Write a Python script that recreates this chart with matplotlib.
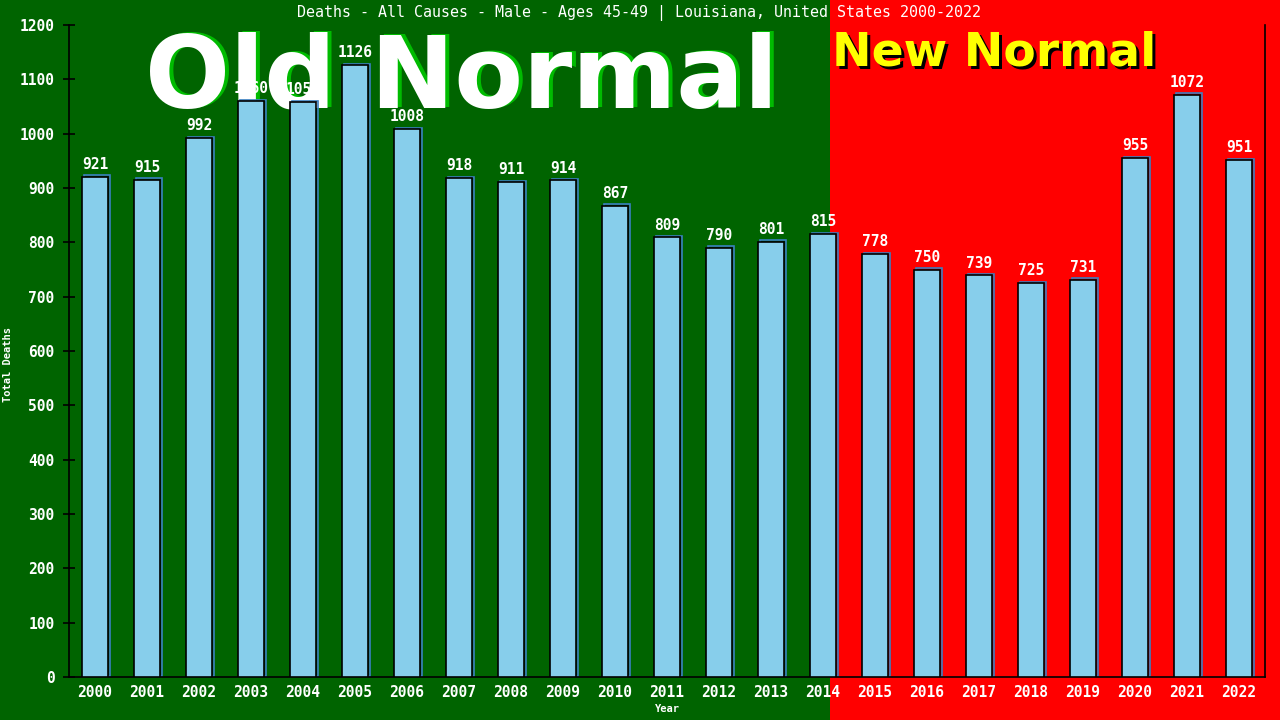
"""Deaths by year, Louisiana males 45-49, old vs new normal."""

import matplotlib.pyplot as plt
from matplotlib.patches import Rectangle
from matplotlib.transforms import ScaledTranslation

years = [str(y) for y in range(2000, 2023)]
deaths = [921, 915, 992, 1060, 1058, 1126, 1008, 918, 911, 914, 867, 809,
          790, 801, 815, 778, 750, 739, 725, 731, 955, 1072, 951]
y_ticks = list(range(0, 1201, 100))

GREEN = "#006400"
RED = "#ff0000"
BAR = "#87ceeb"
MONO = "DejaVu Sans Mono"

fig = plt.figure(figsize=(12.8, 7.2), dpi=100, facecolor=GREEN)
ax = fig.add_axes([69 / 1280, 1 - 677 / 720, (1265 - 69) / 1280, (677 - 25) / 720])
ax.set_facecolor("none")

# red "new normal" half of the background
fig.patches.append(Rectangle((830 / 1280, 0), 450 / 1280, 1, transform=fig.transFigure,
                             facecolor=RED, edgecolor="none", zorder=-3))

# big headline texts, drawn behind the bars
shadow = ScaledTranslation(4 / 100, 1 / 100, fig.dpi_scale_trans)
fig.text(462 / 1280, 1 - 80 / 720, "Old Normal", ha="center", va="center", fontsize=72,
         fontweight="bold", color="#00bb00", transform=fig.transFigure + shadow, zorder=-2)
fig.text(462 / 1280, 1 - 80 / 720, "Old Normal", ha="center", va="center", fontsize=72,
         fontweight="bold", color="white", zorder=-1)
shadow2 = ScaledTranslation(3 / 100, -3 / 100, fig.dpi_scale_trans)
fig.text(994 / 1280, 1 - 53 / 720, "New Normal", ha="center", va="center", fontsize=34,
         fontweight="bold", color="black", transform=fig.transFigure + shadow2, zorder=-2)
fig.text(994 / 1280, 1 - 53 / 720, "New Normal", ha="center", va="center", fontsize=34,
         fontweight="bold", color="#ffff00", zorder=-1)

fig.text(639 / 1280, 1 - 13 / 720,
         "Deaths - All Causes - Male - Ages 45-49 | Louisiana, United States 2000-2022",
         ha="center", va="center", color="white", fontsize=10.8, family=MONO)

x = list(range(len(years)))
offset = ScaledTranslation(1.5 / 100, 1.5 / 100, fig.dpi_scale_trans)
ax.bar(x, deaths, width=0.5, color="none", edgecolor="#3a7fc0", linewidth=1.2,
       transform=ax.transData + offset, zorder=2)
ax.bar(x, deaths, width=0.5, color=BAR, edgecolor="black", linewidth=1.2, zorder=3)
for xi, d in zip(x, deaths):
    ax.text(xi, d + 9, str(d), ha="center", va="bottom", color="white",
            fontsize=10.5, family=MONO, fontweight="bold", zorder=4)

ax.set_xlim(-0.5, len(years) - 0.5)
ax.set_ylim(0, 1200)
ax.set_xticks(x)
ax.set_xticklabels(years, family=MONO, fontsize=10.5, color="white", fontweight="bold")
ax.set_yticks(y_ticks)
ax.set_yticklabels([str(v) for v in y_ticks], family=MONO, fontsize=10.5, color="white",
                   fontweight="bold")
ax.tick_params(axis="x", length=0, pad=6)
ax.tick_params(axis="y", direction="inout", length=9, width=1.2, pad=6)
ax.spines["top"].set_visible(False)
for side in ("left", "right", "bottom"):
    ax.spines[side].set_color("black")
    ax.spines[side].set_linewidth(1.2)
ax.set_xlabel("Year", family=MONO, fontsize=7.5, fontweight="bold", color="white")
ax.xaxis.set_label_coords(0.5, -(704 - 677) / 652)
ax.set_ylabel("Total Deaths", family=MONO, fontsize=7.5, fontweight="bold", color="white")
ax.yaxis.set_label_coords(-(69 - 13) / 1196, 0.48)

fig.savefig("out.png", dpi=100, facecolor=GREEN)
